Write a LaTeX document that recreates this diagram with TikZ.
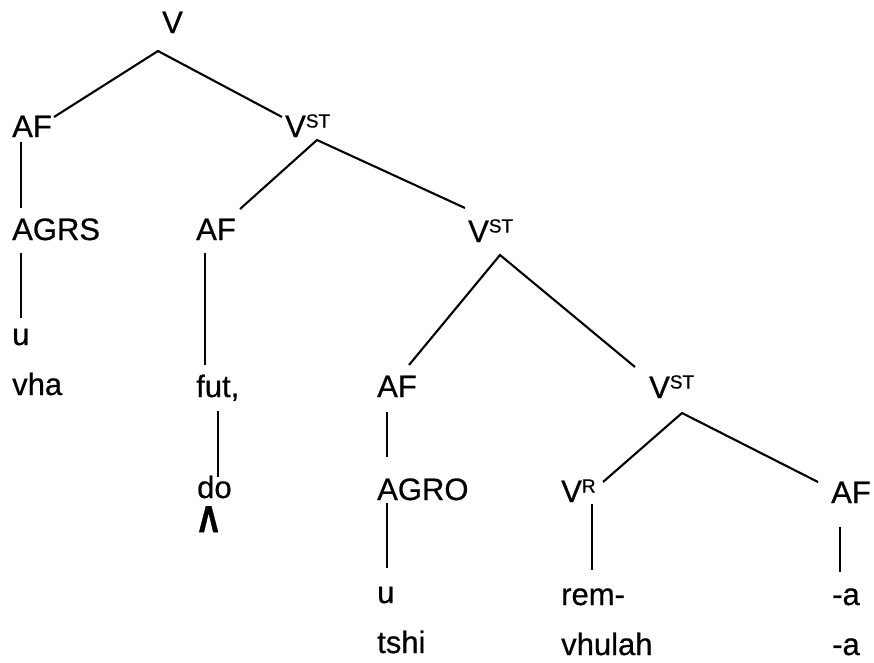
\documentclass[tikz,border=0pt]{standalone}
\usepackage{fontspec}
\setmainfont{Liberation Sans}[FakeBold=0.6]
\newfontfamily\markfont{DejaVu Sans}[FakeBold=1.5]
\begin{document}
\begin{tikzpicture}[x=1pt,y=-1pt,
  lab/.style={anchor=base west,inner sep=0pt,font=\fontsize{31}{36}\selectfont},
  edge/.style={line width=2.1pt}]
\newcommand{\sps}[1]{\raisebox{9.5pt}{\fontsize{19}{19}\selectfont #1}}
\useasboundingbox (0,0) rectangle (874,662);
% labels
\node[lab] (V) at (162,33) {V};
\node[lab] (AF1) at (12,137) {AF};
\node[lab] (VST1) at (285,137) {V\sps{ST}};
\node[lab] (AGRS) at (12,240) {AGRS};
\node[lab] (u1) at (12,345) {u};
\node[lab] (vha) at (12,395) {vha};
\node[lab] (AF2) at (196,240) {AF};
\node[lab] (fut) at (196,397) {fut,};
\node[lab] (do) at (197,498) {do};
\node[anchor=base west,inner sep=0pt,xscale=0.7] (mark) at (199,532) {\markfont\bfseries\fontsize{35}{36}\selectfont Λ};
\node[lab] (VST2) at (468,242) {V\sps{ST}};
\node[lab] (AF3) at (377,397) {AF};
\node[lab] (AGRO) at (377,500) {AGRO};
\node[lab] (u2) at (377,603) {u};
\node[lab] (tshi) at (377,653) {tshi};
\node[lab] (VST3) at (649,398) {V\sps{ST}};
\node[lab] (VR) at (561,502) {V\sps{R}};
\node[lab] (rem) at (561,605) {rem-};
\node[lab] (vhulah) at (561,655) {vhulah};
\node[lab] (AF4) at (831,503) {AF};
\node[lab] (a1) at (832,605) {-a};
\node[lab] (a2) at (832,655) {-a};
% connector end points
\coordinate (V-b) at (158,51);
\coordinate (AF1-t) at (54,117);
\coordinate (VST1-t) at (282,117);
\coordinate (AF1-b) at (21,142);
\coordinate (AGRS-t) at (21,208);
\coordinate (AGRS-b) at (21,253);
\coordinate (u1-t) at (21,318);
\coordinate (VST1-b) at (317,140);
\coordinate (AF2-t) at (240,209);
\coordinate (VST2-t) at (465,208);
\coordinate (AF2-b) at (205,253);
\coordinate (fut-t) at (205,365);
\coordinate (fut-b) at (218,411);
\coordinate (do-t) at (218,477);
\coordinate (VST2-b) at (500,255);
\coordinate (AF3-t) at (409,365);
\coordinate (VST3-t) at (635,367);
\coordinate (AF3-b) at (387,412);
\coordinate (AGRO-t) at (387,457);
\coordinate (AGRO-b) at (387,503);
\coordinate (u2-t) at (387,568);
\coordinate (VST3-b) at (682,413);
\coordinate (VR-t) at (603,482);
\coordinate (AF4-t) at (818,482);
\coordinate (VR-b) at (592,504);
\coordinate (rem-t) at (592,570);
\coordinate (AF4-b) at (840,527);
\coordinate (a1-t) at (840,572);
% connectors
\draw[edge] (AF1-t) -- (V-b) -- (VST1-t);
\draw[edge] (AF1-b) -- (AGRS-t);
\draw[edge] (AGRS-b) -- (u1-t);
\draw[edge] (AF2-t) -- (VST1-b) -- (VST2-t);
\draw[edge] (AF2-b) -- (fut-t);
\draw[edge] (fut-b) -- (do-t);
\draw[edge] (AF3-t) -- (VST2-b) -- (VST3-t);
\draw[edge] (AF3-b) -- (AGRO-t);
\draw[edge] (AGRO-b) -- (u2-t);
\draw[edge] (VR-t) -- (VST3-b) -- (AF4-t);
\draw[edge] (VR-b) -- (rem-t);
\draw[edge] (AF4-b) -- (a1-t);
\end{tikzpicture}
\end{document}
